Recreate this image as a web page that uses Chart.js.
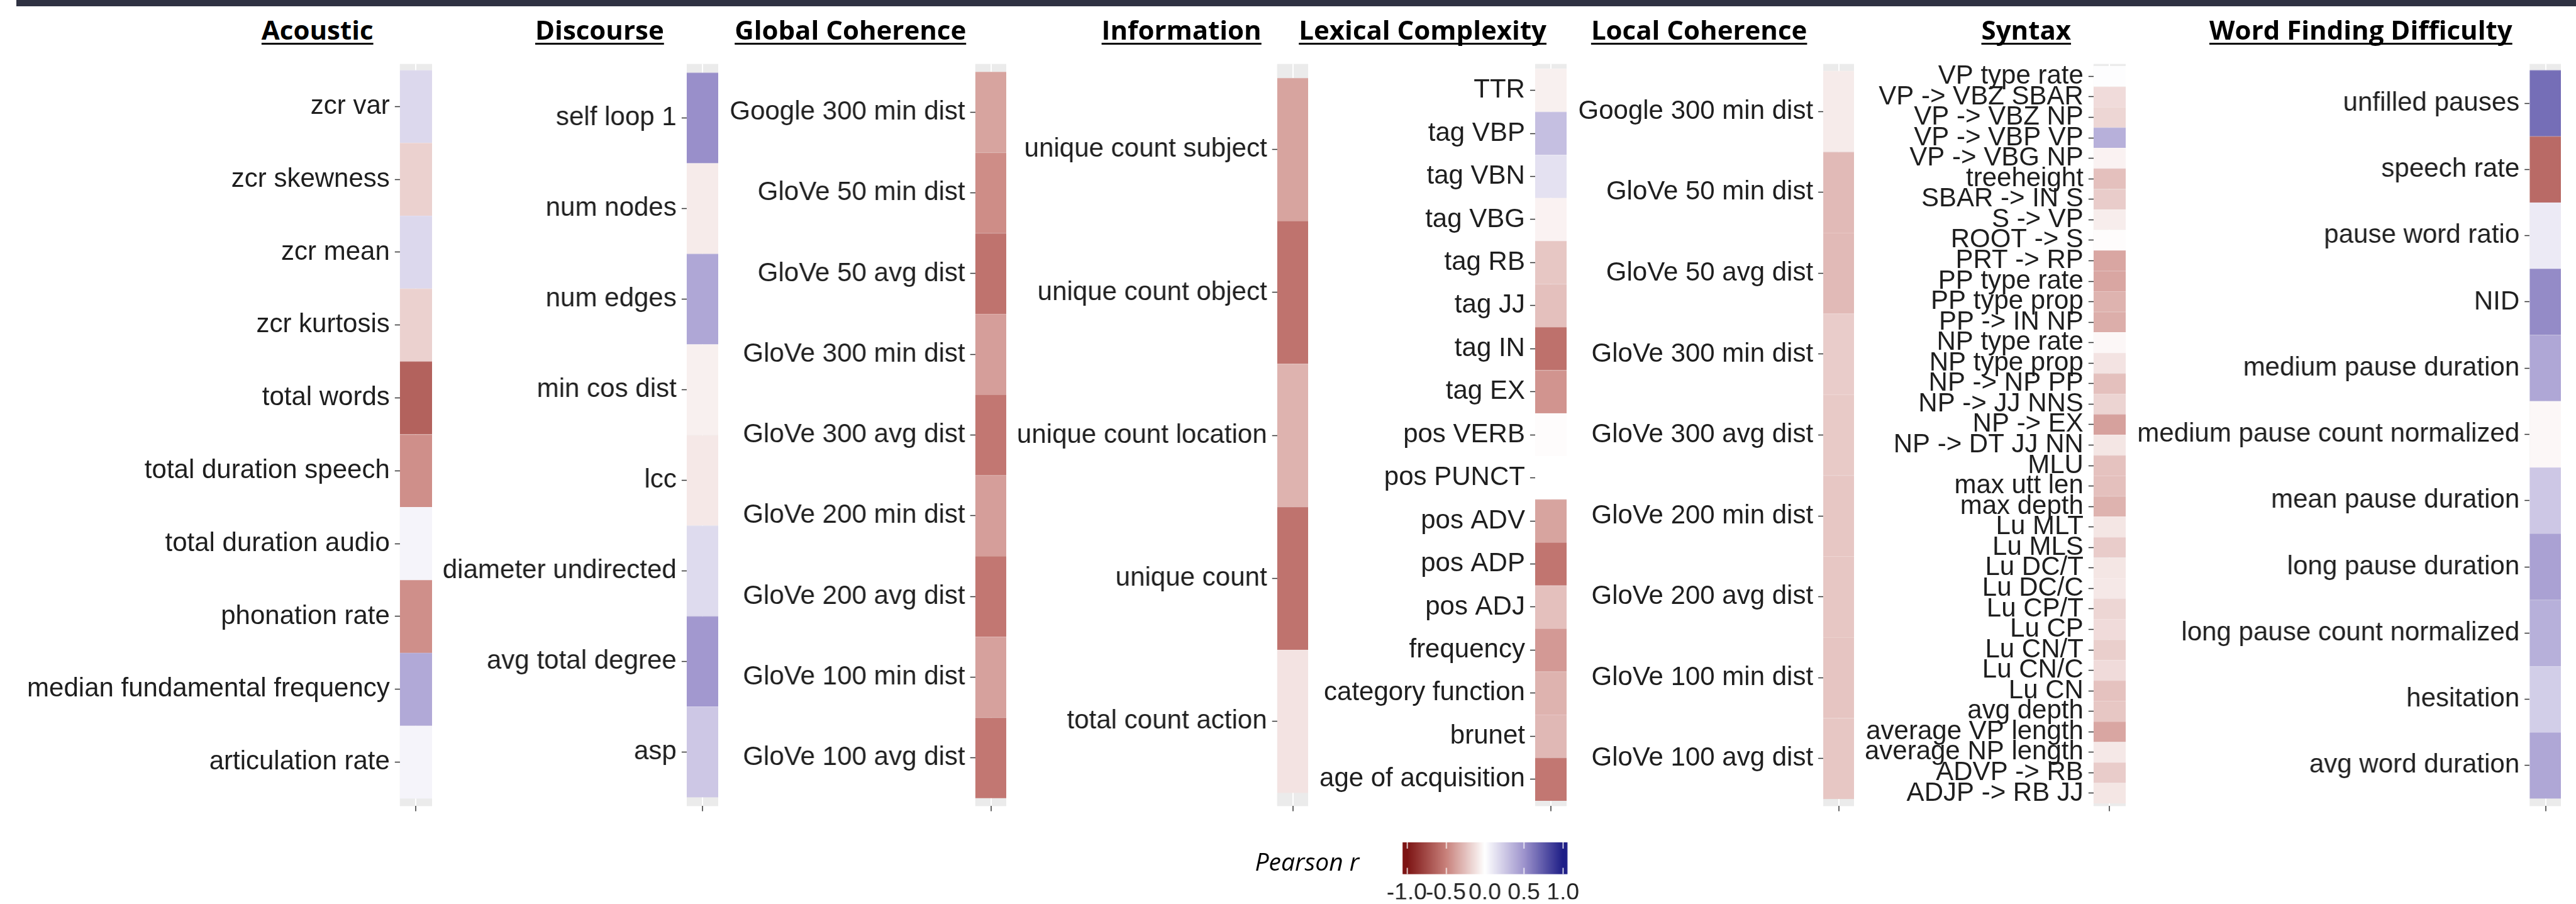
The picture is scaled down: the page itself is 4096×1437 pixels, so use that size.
<!DOCTYPE html>
<html>
<head>
<meta charset="utf-8">
<script src="https://cdn.jsdelivr.net/npm/chart.js@4.4.1/dist/chart.umd.min.js"></script>
<style>
html, body { margin: 0; padding: 0; background: #fff; }
#page { position: relative; width: 4096px; height: 1437px; overflow: hidden; background: #fff; }
.topbar { position: absolute; left: 26px; top: 0; width: 4070px; height: 10px; background: #2f3242; }
.ptitle { position: absolute; top: 26px; width: 800px; text-align: center; white-space: nowrap;
  font-family: 'Open Sans', sans-serif; font-weight: 700; font-size: 42px; line-height: 1; color: #000;
  text-decoration: underline; text-decoration-thickness: 3px; text-underline-offset: 5px; text-decoration-skip-ink: none; }
.box { position: absolute; }
.legtitle { position: absolute; font-family: 'Open Sans', sans-serif; font-style: italic; font-size: 39px; line-height: 1; color: #000; white-space: nowrap; }
</style>
</head>
<body>
<div id="page"><div class="topbar"></div></div>
<script>
// everything is laid out in reference pixels, then scaled down
const S = 0.701;

// Acoustic
const acousticLabels = ['zcr var', 'zcr skewness', 'zcr mean', 'zcr kurtosis', 'total words',
  'total duration speech', 'total duration audio', 'phonation rate', 'median fundamental frequency', 'articulation rate'];
const acousticR = [0.18, -0.18, 0.18, -0.18, -0.64, -0.44, 0.05, -0.44, 0.40, 0.05];

// Discourse
const discourseLabels = ['self loop 1', 'num nodes', 'num edges', 'min cos dist', 'lcc',
  'diameter undirected', 'avg total degree', 'asp'];
const discourseR = [0.52, -0.08, 0.41, -0.06, -0.09, 0.17, 0.48, 0.26];

// Global Coherence
const globalLabels = ['Google 300 min dist', 'GloVe 50 min dist', 'GloVe 50 avg dist', 'GloVe 300 min dist',
  'GloVe 300 avg dist', 'GloVe 200 min dist', 'GloVe 200 avg dist', 'GloVe 100 min dist', 'GloVe 100 avg dist'];
const globalR = [-0.36, -0.45, -0.56, -0.38, -0.54, -0.38, -0.54, -0.37, -0.54];

// Information
const infoLabels = ['unique count subject', 'unique count object', 'unique count location', 'unique count', 'total count action'];
const infoR = [-0.36, -0.56, -0.30, -0.56, -0.11];

// Lexical Complexity
const lexicalLabels = ['TTR', 'tag VBP', 'tag VBN', 'tag VBG', 'tag RB', 'tag JJ', 'tag IN', 'tag EX',
  'pos VERB', 'pos PUNCT', 'pos ADV', 'pos ADP', 'pos ADJ', 'frequency', 'category function', 'brunet', 'age of acquisition'];
const lexicalR = [-0.06, 0.30, 0.14, -0.05, -0.22, -0.25, -0.57, -0.42, -0.01, 0.0, -0.36, -0.55, -0.25, -0.40, -0.30, -0.28, -0.54];

// Local Coherence
const localLabels = ['Google 300 min dist', 'GloVe 50 min dist', 'GloVe 50 avg dist', 'GloVe 300 min dist',
  'GloVe 300 avg dist', 'GloVe 200 min dist', 'GloVe 200 avg dist', 'GloVe 100 min dist', 'GloVe 100 avg dist'];
const localR = [-0.08, -0.27, -0.27, -0.20, -0.21, -0.22, -0.22, -0.23, -0.22];

// Syntax
const syntaxLabels = ['VP type rate', 'VP -> VBZ SBAR', 'VP -> VBZ NP', 'VP -> VBP VP', 'VP -> VBG NP', 'treeheight',
  'SBAR -> IN S', 'S -> VP', 'ROOT -> S', 'PRT -> RP', 'PP type rate', 'PP type prop', 'PP -> IN NP', 'NP type rate',
  'NP type prop', 'NP -> NP PP', 'NP -> JJ NNS', 'NP -> EX', 'NP -> DT JJ NN', 'MLU', 'max utt len', 'max depth',
  'Lu MLT', 'Lu MLS', 'Lu DC/T', 'Lu DC/C', 'Lu CP/T', 'Lu CP', 'Lu CN/T', 'Lu CN/C', 'Lu CN', 'avg depth',
  'average VP length', 'average NP length', 'ADVP -> RB', 'ADJP -> RB JJ'];
const syntaxR = [0.01, -0.14, -0.16, 0.37, -0.05, -0.25, -0.20, -0.07, -0.01, -0.35, -0.35, -0.30, -0.32, -0.03,
  -0.11, -0.25, -0.17, -0.37, -0.10, -0.24, -0.25, -0.30, -0.10, -0.20, -0.10, -0.09, -0.16, -0.14, -0.19,
  -0.14, -0.24, -0.22, -0.35, -0.09, -0.20, -0.10];

// Word Finding Difficulty
const wordLabels = ['unfilled pauses', 'speech rate', 'pause word ratio', 'NID', 'medium pause duration',
  'medium pause count normalized', 'mean pause duration', 'long pause duration', 'long pause count normalized',
  'hesitation', 'avg word duration'];
const wordR = [0.66, -0.60, 0.10, 0.54, 0.41, -0.03, 0.26, 0.44, 0.37, 0.23, 0.41];

// colour bar
const legendTicks = [-1, -0.5, 0, 0.5, 1];

// fill scale for Pearson r
const scaleStops = [
  [-1, [125, 20, 20]],
  [-0.5, [200, 128, 122]],
  [0, [255, 255, 255]],
  [0.5, [158, 148, 205]],
  [1, [30, 30, 135]]
];
function rgbFor(r) {
  r = Math.max(-1, Math.min(1, r));
  for (let i = 0; i < scaleStops.length - 1; i++) {
    const [a, ca] = scaleStops[i], [b, cb] = scaleStops[i + 1];
    if (r <= b) {
      const t = (r - a) / (b - a);
      return ca.map((v, k) => Math.round(v + (cb[k] - v) * t));
    }
  }
  return scaleStops[scaleStops.length - 1][1];
}
const colorFor = r => 'rgb(' + rgbFor(r).join(',') + ')';
const edgeFor = r => 'rgb(' + rgbFor(r).map(v => Math.round(v + (255 - v) * 0.25)).join(',') + ')';

// grey panel top/bottom (reference px) and per-panel placement
const PANEL_TOP = 145, PANEL_BOT = 1828;
const panels = [
  { title: 'Acoustic', labels: acousticLabels, values: acousticR, left: 0, x0: 907, x1: 980, cTop: 159, cBot: 1811, titleX: 720 },
  { title: 'Discourse', labels: discourseLabels, values: discourseR, left: 985, x0: 1557, x1: 1629, cTop: 165, cBot: 1808, titleX: 1360 },
  { title: 'Global Coherence', labels: globalLabels, values: globalR, left: 1635, x0: 2211, x1: 2282, cTop: 163, cBot: 1810, titleX: 1929 },
  { title: 'Information', labels: infoLabels, values: infoR, left: 2290, x0: 2896, x1: 2967, cTop: 177, cBot: 1798, titleX: 2680 },
  { title: 'Lexical Complexity', labels: lexicalLabels, values: lexicalR, left: 2970, x0: 3482, x1: 3554, cTop: 156, cBot: 1816, titleX: 3227 },
  { title: 'Local Coherence', labels: localLabels, values: localR, left: 3560, x0: 4135, x1: 4206, cTop: 161, cBot: 1812, titleX: 3854 },
  { title: 'Syntax', labels: syntaxLabels, values: syntaxR, left: 4210, x0: 4749, x1: 4822, cTop: 150, cBot: 1822, titleX: 4596 },
  { title: 'Word Finding Difficulty', labels: wordLabels, values: wordR, left: 4825, x0: 5737, x1: 5809, cTop: 159, cBot: 1811, titleX: 5355 }
];

const page = document.getElementById('page');

const panelBg = {
  id: 'panelBg',
  beforeDraw(chart) {
    const { ctx, chartArea: a } = chart;
    ctx.save();
    ctx.fillStyle = '#ebebeb';
    ctx.fillRect(a.left, a.top, a.right - a.left, a.bottom - a.top);
    ctx.restore();
  }
};

function addBox(left, top, width, height) {
  const wrap = document.createElement('div');
  wrap.className = 'box';
  wrap.style.left = left + 'px';
  wrap.style.top = top + 'px';
  wrap.style.width = width + 'px';
  wrap.style.height = height + 'px';
  const cv = document.createElement('canvas');
  wrap.appendChild(cv);
  page.appendChild(wrap);
  return cv;
}

panels.forEach(p => {
  const t = document.createElement('div');
  t.className = 'ptitle';
  t.textContent = p.title;
  t.style.left = (p.titleX * S - 400) + 'px';
  page.appendChild(t);

  const cv = addBox(p.left * S, 0, (p.x1 - p.left) * S, 1437);
  const n = p.labels.length;
  const h = (p.cBot - p.cTop) / n;
  const yMin = -0.5 - (p.cTop - PANEL_TOP) / h;
  const yMax = n - 0.5 + (PANEL_BOT - p.cBot) / h;

  new Chart(cv, {
    type: 'bar',
    data: {
      datasets: [{
        data: p.labels.map((_, i) => ({ x: 1, y: i })),
        backgroundColor: p.values.map(colorFor),
        borderColor: p.values.map(edgeFor),
        borderWidth: { top: 1, right: 0, bottom: 0, left: 0 },
        borderSkipped: false,
        categoryPercentage: 1,
        barPercentage: 1
      }]
    },
    options: {
      indexAxis: 'y',
      responsive: true,
      maintainAspectRatio: false,
      animation: false,
      layout: { padding: { top: PANEL_TOP * S, bottom: 1437 - PANEL_BOT * S - 10, left: 0, right: 0 } },
      plugins: { legend: { display: false }, tooltip: { enabled: false } },
      scales: {
        x: {
          type: 'linear', min: 0, max: 1, offset: false,
          afterBuildTicks: s => { s.ticks = [{ value: 0.5 }]; },
          afterFit: s => { s.height = 10; },
          grid: { offset: false, color: '#fff', lineWidth: 2, tickColor: '#333', tickLength: 8, tickWidth: 1.5 },
          border: { display: false },
          ticks: { display: false }
        },
        y: {
          type: 'linear', reverse: true, min: yMin, max: yMax, offset: false,
          afterBuildTicks: s => { s.ticks = p.labels.map((_, i) => ({ value: i })); },
          afterFit: s => { s.width = (p.x0 - p.left) * S; },
          grid: { offset: false, drawOnChartArea: false, tickColor: '#333', tickLength: 8, tickWidth: 1.5 },
          border: { display: false },
          ticks: {
            autoSkip: false, padding: 8, color: '#1e1e1e',
            font: { family: 'Liberation Sans', size: 42 },
            callback: v => p.labels[v]
          }
        }
      }
    },
    plugins: [panelBg]
  });
});

// colour bar legend
const lt = document.createElement('div');
lt.className = 'legtitle';
lt.textContent = 'Pearson r';
lt.style.right = (4096 - 3083 * S) + 'px';
lt.style.top = '1349px';
page.appendChild(lt);

const colorbar = {
  id: 'colorbar',
  beforeDatasetsDraw(chart) {
    const { ctx, chartArea: a, scales: { x } } = chart;
    ctx.save();
    for (let px = Math.floor(a.left); px < a.right; px++) {
      ctx.fillStyle = colorFor(x.getValueForPixel(px + 0.5));
      ctx.fillRect(px, a.top, 1.5, a.bottom - a.top);
    }
    ctx.strokeStyle = '#fff';
    ctx.lineWidth = 1.5;
    const len = (a.bottom - a.top) * 0.2;
    legendTicks.forEach(v => {
      const px = Math.round(x.getPixelForValue(v)) + 0.5;
      ctx.beginPath();
      ctx.moveTo(px, a.top); ctx.lineTo(px, a.top + len);
      ctx.moveTo(px, a.bottom - len); ctx.lineTo(px, a.bottom);
      ctx.stroke();
    });
    ctx.restore();
  }
};

const legCanvas = addBox(3100 * S, 1890 * S, 540 * S, 1437 - 1890 * S);
legCanvas.parentNode.style.zIndex = 5;
new Chart(legCanvas, {
  type: 'scatter',
  data: { datasets: [{ data: [] }] },
  options: {
    responsive: true,
    maintainAspectRatio: false,
    animation: false,
    layout: { padding: { left: (3182 - 3100) * S, right: (3640 - 3553) * S, top: (1910 - 1890) * S, bottom: 1437 - 1890 * S - (1982 - 1890) * S - 40 } },
    plugins: { legend: { display: false }, tooltip: { enabled: false } },
    scales: {
      x: {
        type: 'linear', min: -1.05, max: 1.05,
        afterBuildTicks: s => { s.ticks = legendTicks.map(v => ({ value: v })); },
        afterFit: s => { s.height = 40; },
        grid: { display: false, drawTicks: false },
        border: { display: false },
        ticks: {
          autoSkip: false, maxRotation: 0, padding: 8, color: '#222',
          font: { family: 'Liberation Sans', size: 37 },
          callback: v => v.toFixed(1)
        }
      },
      y: { display: false, min: 0, max: 1 }
    }
  },
  plugins: [colorbar]
});
</script>
</body>
</html>
